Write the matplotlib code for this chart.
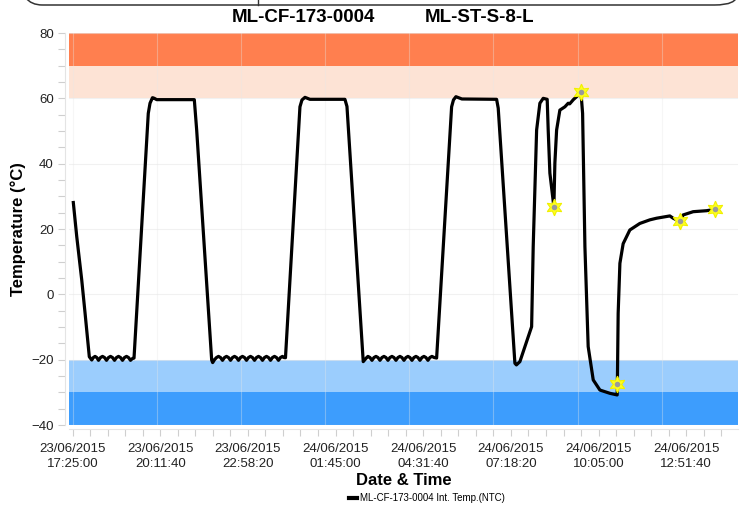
import matplotlib
matplotlib.use("Agg")
import matplotlib.pyplot as plt
import matplotlib.dates as mdates
from matplotlib.patches import FancyBboxPatch
from matplotlib.lines import Line2D
import pandas as pd

# minutes after 23/06/2015 17:25:00 and temperature
minutes = [1.5, 8.0, 17.5, 23.8, 31.9,
           36.5, 39.6, 42.8, 46.1, 49.4, 53.2, 57.0, 60.8, 64.6, 68.4, 72.2, 76.0,
           79.8, 83.6, 87.4, 91.2, 95.0, 98.8, 102.6, 106.4, 110.2, 113.5, 116.9,
           144.0, 147.3, 152.0, 155.5, 160.0, 231.5,
           236.0, 264.5, 266.4,
           269.9, 273.7, 277.5, 281.3, 285.1, 288.9, 292.7, 296.5, 300.3, 304.1,
           307.9, 311.7, 315.5, 319.3, 323.1, 326.9, 330.7, 334.5, 338.3, 342.1,
           345.9, 349.7, 353.5, 357.3, 361.1, 364.9, 368.7, 372.5, 376.3, 380.1,
           383.9, 387.7, 391.5, 395.3, 399.1, 402.0, 404.8,
           432.3, 436.1, 441.9, 451.3, 517.8,
           521.7, 552.6,
           556.8, 559.2, 561.6, 565.4, 569.2, 573.0, 576.8, 580.6, 584.4, 588.2,
           592.0, 595.8, 599.6, 603.4, 607.2, 611.0, 614.8, 618.6, 622.4, 626.2,
           630.0, 633.8, 637.6, 641.4, 645.2, 649.0, 652.8, 656.6, 660.4, 664.2,
           668.0, 671.8, 675.6, 679.4, 683.2, 687.6, 692.1,
           720.6, 724.1, 728.8, 740.2, 806.1,
           809.2, 840.9, 843.8,
           850.4, 869.4, 872.7, 875.7, 882.2, 888.4, 894.7, 902.3,
           904.2, 907.4, 913.7, 915.0, 916.9, 920.2, 926.4, 935.9, 942.2, 945.0,
           948.7, 952.0, 958.2, 966.4,
           969.6, 974.0, 980.2, 989.8, 1002.5, 1021.5, 1035.3,
           1035.7, 1037.2, 1040.5, 1046.7, 1059.4, 1078.4, 1097.4, 1110.2, 1135.4,
           1141.7, 1154.5, 1160.7, 1179.8, 1205.2, 1221.0]
temps = [28.1, 17.7, 4.4, -5.7, -19.1,
         -20.1, -19.35, -19.0, -19.35, -20.2, -19.35, -19.0, -19.35, -20.2, -19.35,
         -19.0, -19.35, -20.2, -19.35, -19.0, -19.35, -20.2, -19.35, -19.0, -19.35,
         -20.2, -19.7, -19.5,
         55.4, 58.5, 60.2, 60.0, 59.6, 59.6,
         50.3, -20.1, -20.9,
         -20.0, -19.35, -19.0, -19.35, -20.2, -19.35, -19.0, -19.35, -20.2, -19.35,
         -19.0, -19.35, -20.2, -19.35, -19.0, -19.35, -20.2, -19.35, -19.0, -19.35,
         -20.2, -19.35, -19.0, -19.35, -20.2, -19.35, -19.0, -19.35, -20.2, -19.35,
         -19.0, -19.35, -20.2, -19.35, -19.0, -19.35, -19.4,
         57.4, 59.5, 60.3, 59.7, 59.7,
         57.5, -20.6,
         -19.8, -19.35, -19.0, -19.35, -20.2, -19.35, -19.0, -19.35, -20.2, -19.35,
         -19.0, -19.35, -20.2, -19.35, -19.0, -19.35, -20.2, -19.35, -19.0, -19.35,
         -20.2, -19.35, -19.0, -19.35, -20.2, -19.35, -19.0, -19.35, -20.2, -19.35,
         -19.0, -19.35, -20.2, -19.35, -19.0, -19.35, -19.5,
         57.4, 59.5, 60.5, 59.8, 59.7,
         57.0, -21.1, -21.6,
         -20.6, -11.4, -9.9, 14.6, 50.3, 58.5, 60.0, 59.7,
         50.3, 37.1, 28.5, 26.8, 40.2, 50.3, 56.4, 57.4, 58.5, 58.3,
         59.0, 59.6, 60.5, 62.0,
         55.4, 14.6, -16.0, -26.2, -29.3, -30.3, -30.8,
         -27.4, -5.8, 9.5, 15.5, 19.7, 21.7, 22.8, 23.3, 24.0,
         23.3, 22.3, 24.3, 25.3, 25.6, 26.0]

# alarm markers
alarm_minutes = [915.0, 966.4, 1035.7, 1154.5, 1221.0]
alarm_temps = [26.8, 62.0, -27.4, 22.3, 26.0]

# limit bands (low, high, colour)
bands = [(70, 80, "#FF7F4F"), (60, 70, "#FDE3D5"),
         (-30, -20, "#9BCDFD"), (-40, -30, "#3D9DFD")]

start = pd.Timestamp("2015-06-23 17:25:00")
t = start + pd.to_timedelta(minutes, unit="min")
ta = start + pd.to_timedelta(alarm_minutes, unit="min")
tick_times = start + pd.to_timedelta([k * 10000 for k in range(8)], unit="s")
minor_times = start + pd.to_timedelta([k * 2000 for k in range(39)], unit="s")
grid_times = start + pd.to_timedelta([k * 160 for k in range(8)], unit="min")

plt.rcParams["font.family"] = ["Liberation Sans", "DejaVu Sans"]

fig = plt.figure(figsize=(7.43, 5.07), dpi=100)
ax = fig.add_axes([69 / 743, 1 - 425 / 507, (738 - 69) / 743, (425 - 33) / 507])

for lo, hi, c in bands:
    ax.axhspan(lo, hi, color=c, lw=0, zorder=0)

for g in grid_times:
    ax.axvline(g, color="#e8e8e8", lw=0.8, alpha=0.35, zorder=1)
for y in range(-40, 81, 20):
    ax.axhline(y, color="#e8e8e8", lw=0.8, alpha=0.6, zorder=1)

ax.plot(t, temps, color="black", lw=2.3, solid_joinstyle="round", zorder=3)
ax.plot(ta, alarm_temps, ls="none", marker=(6, 1, 0), ms=12,
        mfc="#FFFF20", mec="#F0F000", mew=0.8, zorder=4)
ax.plot(ta, alarm_temps, ls="none", marker="o", ms=4,
        mfc="#9a9a9a", mec="none", zorder=5)

ax.set_xlim(start - pd.Timedelta(minutes=6.7), start + pd.Timedelta(minutes=1265))
ax.set_ylim(-40, 80)

ax.set_yticks(range(-40, 81, 20))
ax.set_yticks(range(-40, 81, 5), minor=True)
ax.xaxis.set_major_locator(matplotlib.ticker.FixedLocator(mdates.date2num(tick_times)))
ax.xaxis.set_minor_locator(matplotlib.ticker.FixedLocator(mdates.date2num(minor_times)))
ax.xaxis.set_major_formatter(mdates.DateFormatter("%d/%m/%Y\n%H:%M:%S"))

for s in ["top", "right"]:
    ax.spines[s].set_visible(False)
for s in ["left", "bottom"]:
    ax.spines[s].set_color("#e4e4e4")
    ax.spines[s].set_position(("outward", 3))
ax.tick_params(which="both", color="#cfcfcf", length=5, width=0.8)
ax.tick_params(axis="x", labelsize=9.5, pad=5, labelcolor="#222222")
ax.tick_params(axis="y", labelsize=9.5, pad=3, labelcolor="#222222")
for lab in ax.get_xticklabels():
    lab.set_linespacing(1.3)

ax.set_xlabel("Date & Time", fontsize=12, fontweight="bold", labelpad=2)
ax.set_ylabel("Temperature (°C)", fontsize=12, fontweight="bold", labelpad=4)

fig.text(303 / 743, 1 - 18 / 507, "ML-CF-173-0004", ha="center", va="center",
         fontsize=13.5, fontweight="bold")
fig.text(480 / 743, 1 - 18 / 507, "ML-ST-S-8-L", ha="center", va="center",
         fontsize=13.5, fontweight="bold")

# header box edge at the top
box = FancyBboxPatch((20 / 743, 1 - 5 / 507), 717 / 743, 40 / 507,
                     boxstyle="round,pad=0,rounding_size=0.03",
                     transform=fig.transFigure, fill=False, ec="#333333",
                     lw=1.1, mutation_aspect=507 / 743, clip_on=False)
fig.patches.append(box)
fig.add_artist(Line2D([258 / 743, 258 / 743], [1 - 5 / 507, 1], color="#333333",
                      lw=1.0, transform=fig.transFigure))

handle = Line2D([], [], color="black", lw=3)
fig.legend([handle], ["ML-CF-173-0004 Int. Temp.(NTC)"], loc="center",
           bbox_to_anchor=(427 / 743, 1 - 498 / 507), frameon=False, fontsize=7,
           handlelength=0.8, handletextpad=0.3)

fig.savefig("out.png", dpi=100)
plt.close()
